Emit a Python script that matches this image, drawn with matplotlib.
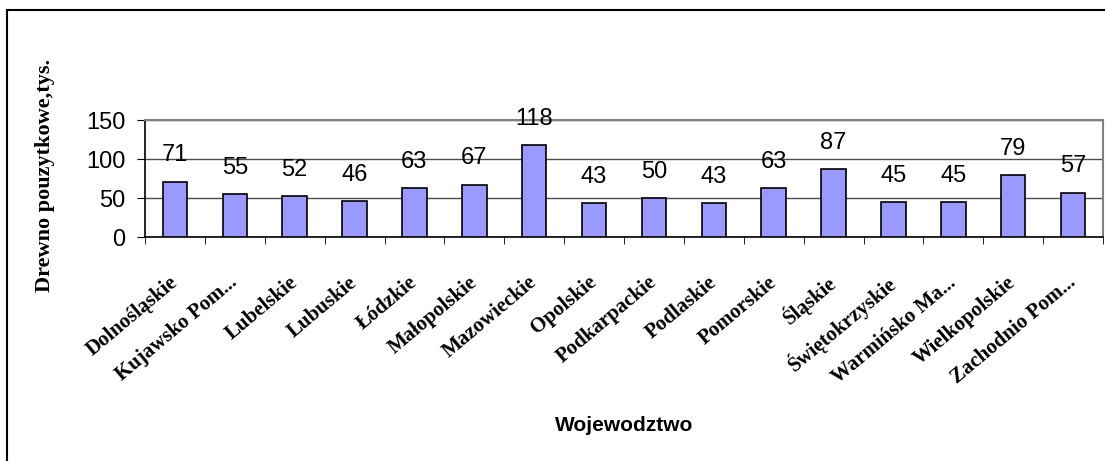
import numpy as np
import matplotlib.pyplot as plt
from matplotlib.patches import Rectangle

# Voivodeships and values
wojewodztwa = ['Dolnośląskie', 'Kujawsko Pom...', 'Lubelskie', 'Lubuskie', 'Łódzkie',
               'Małopolskie', 'Mazowieckie', 'Opolskie', 'Podkarpackie', 'Podlaskie',
               'Pomorskie', 'Śląskie', 'Świętokrzyskie', 'Warmińsko Ma...', 'Wielkopolskie',
               'Zachodnio Pom...']
drewno = [71, 55, 52, 46, 63, 67, 118, 43, 50, 43, 63, 87, 45, 45, 79, 57]
yticks = [0, 50, 100, 150]

W, H = 1105, 461
fig = plt.figure(figsize=(W / 100, H / 100), dpi=100)
ax = fig.add_axes([145 / W, 1 - 237 / H, (1103 - 145) / W, (237 - 120) / H])

x = np.arange(len(drewno))
ax.bar(x, drewno, width=0.41, color='#9999FF', edgecolor='black', linewidth=1.2, zorder=3)

# value labels above bars
for xi, v in zip(x, drewno):
    ax.annotate(str(v), (xi, v), xytext=(0, 11), textcoords='offset points',
                ha='center', va='bottom', fontsize=17, family='Liberation Sans', zorder=4)

ax.set_xlim(-0.5, len(drewno) - 0.5)
ax.set_ylim(0, 150)
ax.set_yticks(yticks)
ax.set_yticklabels([str(t) for t in yticks], fontsize=17, family='Liberation Sans')
ax.yaxis.grid(True, color='#4d4d4d', linewidth=1, zorder=0)

ax.set_xticks(x)
ax.set_xticklabels(wojewodztwa, rotation=40, ha='right', va='center', rotation_mode='anchor',
                   fontsize=15, family='Liberation Serif', fontweight='bold')
ax.tick_params(axis='x', length=0, pad=31)
ax.set_xticks(np.arange(-0.5, len(drewno)), minor=True)
ax.tick_params(axis='x', which='minor', length=5, direction='out', color='black')
ax.tick_params(axis='y', length=6, direction='out', pad=8)

for s in ['left', 'bottom']:
    ax.spines[s].set_color('black')
    ax.spines[s].set_linewidth(1.2)
for s in ['top', 'right']:
    ax.spines[s].set_color('#808080')
    ax.spines[s].set_linewidth(1.5)

fig.text(624 / W, 1 - 425 / H, 'Wojewodztwo', ha='center', va='center',
         fontsize=15, fontweight='bold', family='Liberation Sans')
fig.text(45 / W, 1 - 175 / H, 'Drewno pouzytkowe,tys.', ha='center', va='center',
         rotation=90, fontsize=16, fontweight='bold', family='Liberation Serif')

# outer chart frame
fig.patches.append(Rectangle((7 / W, -0.1), 1.2, 1 - 10 / H + 0.1, transform=fig.transFigure,
                             fill=False, edgecolor='black', linewidth=1.5))

fig.savefig('out.png', dpi=100)
